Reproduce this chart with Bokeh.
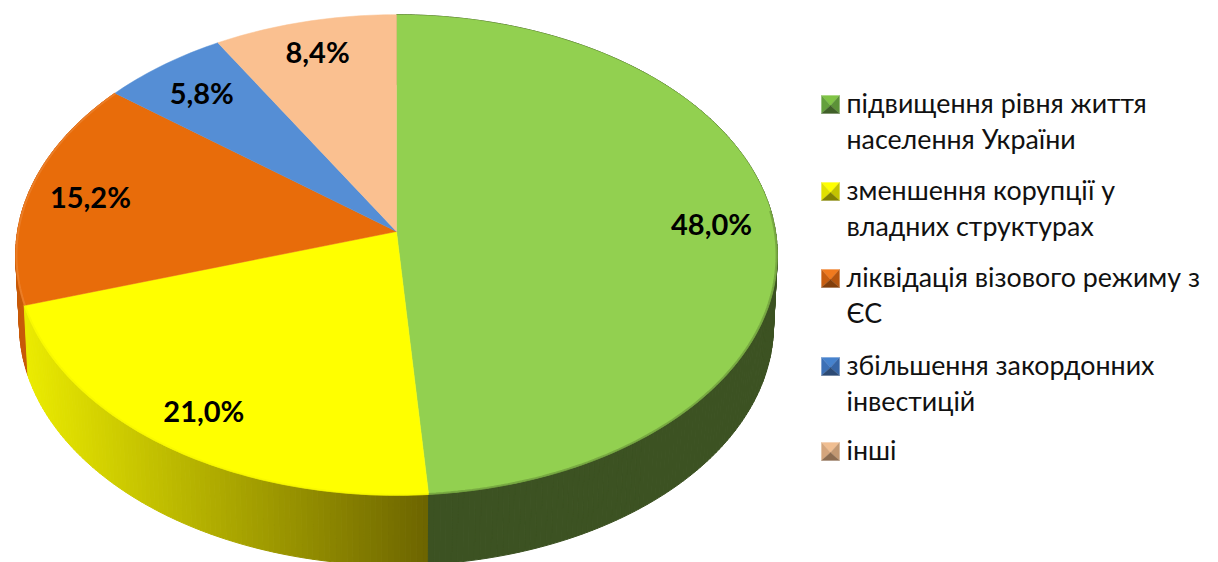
import math
from bokeh.plotting import figure
from bokeh.models import Range1d, ColumnDataSource
from bokeh.core.properties import value
from bokeh.embed import file_html
from bokeh.resources import INLINE

categories = ["підвищення рівня життя населення України", "зменшення корупції у владних структурах",
              "ліквідація візового режиму з ЄС", "збільшення закордонних інвестицій", "інші"]
values = [48.0, 21.0, 15.2, 5.8, 8.4]
value_labels = ["48,0%", "21,0%", "15,2%", "5,8%", "8,4%"]
legend_lines = [["підвищення рівня життя", "населення України"],
                ["зменшення корупції у", "владних структурах"],
                ["ліквідація візового режиму з", "ЄС"],
                ["збільшення закордонних", "інвестицій"],
                ["інші"]]
colors = [(146, 208, 80), (255, 255, 0), (232, 108, 10), (85, 142, 213), (250, 192, 144)]
side_from = [(60, 82, 34), (235, 235, 0), (200, 90, 8), (60, 100, 150), (180, 140, 100)]
side_to = [(60, 82, 34), (108, 100, 0), (200, 90, 8), (60, 100, 150), (180, 140, 100)]
marker_top = [(128, 196, 70), (255, 255, 0), (240, 122, 30), (70, 130, 205), (240, 190, 145)]
marker_left = [(100, 160, 60), (225, 225, 0), (200, 94, 16), (60, 112, 182), (212, 165, 124)]
marker_right = [(92, 146, 56), (195, 195, 0), (180, 84, 14), (54, 100, 164), (194, 152, 114)]
marker_bottom = [(64, 96, 40), (130, 130, 0), (130, 62, 10), (44, 74, 116), (140, 108, 80)]

CX, CY, A, B, K = 396.0, 231.0, 379.0, 238.0, 0.0977
DEPTH, SHRINK = 70.0, 0.99
LABEL_R = [0.835, 0.835, 0.835, 0.835, 0.86]
FONT = "Lato"


def project(deg, r=1.0):
    t = math.radians(deg)
    u, v = math.sin(t), math.cos(t)
    w = 1 + K * v
    return CX + r * A * u / w, CY - r * B * v / w


def lower(pt):
    return CX + (pt[0] - CX) * SHRINK, pt[1] + DEPTH


def mix(c1, c2, t):
    return tuple(int(round(a + (b - a) * t)) for a, b in zip(c1, c2))


def hexc(c):
    return "#%02x%02x%02x" % tuple(c)


p = figure(width=1218, height=562, x_range=Range1d(0, 1218), y_range=Range1d(562, 0),
           output_backend="svg", toolbar_location=None, min_border=0,
           outline_line_color=None, background_fill_color="white")
p.xaxis.visible = False
p.yaxis.visible = False
p.grid.visible = False

total = sum(values)
angles = [0.0]
for val in values:
    angles.append(angles[-1] + 360.0 * val / total)

# side walls, one thin strip per step, coloured along x
sx, sy, sc = [], [], []
draw_order = [2, 1, 0]
for i in draw_order:
    a0, a1 = angles[i], angles[i + 1]
    n = max(2, int((a1 - a0) / 0.8))
    xs_ring = [project(a0 + (a1 - a0) * k / n)[0] for k in range(n + 1)]
    xmin, xmax = min(xs_ring), max(xs_ring)
    for k in range(n):
        d0 = a0 + (a1 - a0) * k / n
        d1 = a0 + (a1 - a0) * (k + 1) / n
        t0, t1 = project(d0), project(d1)
        l0, l1 = lower(t0), lower(t1)
        sx.append([t0[0], t1[0], l1[0], l0[0]])
        sy.append([t0[1], t1[1], l1[1], l0[1]])
        frac = (0.5 * (t0[0] + t1[0]) - xmin) / max(1.0, xmax - xmin)
        sc.append(hexc(mix(side_from[i], side_to[i], frac)))
p.patches("x", "y", source=ColumnDataSource(dict(x=sx, y=sy, c=sc)), fill_color="c", line_color="c", line_width=1)

# top face
for i in range(len(values)):
    a0, a1 = angles[i], angles[i + 1]
    n = max(8, int(a1 - a0))
    pts = [project(a0 + (a1 - a0) * k / n) for k in range(n + 1)]
    xs = [CX] + [q[0] for q in pts]
    ys = [CY] + [q[1] for q in pts]
    p.patch(xs, ys, fill_color=hexc(colors[i]), line_color=hexc(colors[i]), line_width=0.5)

# soft bevel along the rim (front part only)
for i in range(3):
    a0, a1 = angles[i], angles[i + 1]
    if i == 0:
        a0 = 85.0
    n = max(8, int(a1 - a0))
    pts_in = [project(a0 + (a1 - a0) * k / n, 0.998) for k in range(n + 1)]
    rim = mix(colors[i], side_from[i], 0.5) if i == 0 else (mix(colors[i], (255, 255, 255), 0.2) if i == 2 else (245, 245, 0))
    p.line([q[0] for q in pts_in], [q[1] for q in pts_in], line_color=hexc(rim), line_width=2, line_alpha=0.6)

# value labels
lx, ly = [], []
for i in range(len(values)):
    q = project((angles[i] + angles[i + 1]) / 2)
    lx.append(CX + (q[0] - CX) * LABEL_R[i])
    ly.append(CY + (q[1] - CY) * LABEL_R[i])
p.text(lx, ly, text=value_labels, text_font=value(FONT), text_font_style="bold", text_font_size="29px",
       text_align="center", text_baseline="middle", text_color="black")

# legend
ROW_Y = [104, 191, 278, 366, 451]
MX0, MX1, TX, LINE, TEXT_DY = 821, 839, 846, 36, -2
for i, lines in enumerate(legend_lines):
    y = ROW_Y[i]
    y0, y1, mx, my = y - 9, y + 9, (MX0 + MX1) / 2, y + 1
    for tri, col in ((([MX0, MX1, mx], [y0, y0, my])), marker_top[i]), \
                    ((([MX0, MX0, mx], [y0, y1, my])), marker_left[i]), \
                    ((([MX1, MX1, mx], [y0, y1, my])), marker_right[i]), \
                    ((([MX0, MX1, mx], [y1, y1, my])), marker_bottom[i]):
        p.patch(tri[0], tri[1], fill_color=hexc(col), line_color=hexc(col), line_width=0.3)
    p.text([TX] * len(lines), [y + TEXT_DY + LINE * k for k in range(len(lines))], text=lines,
           text_font=value(FONT), text_font_size="26.8px", text_align="left", text_baseline="middle",
           text_color="#111111")

open("out.html", "w").write(file_html(p, INLINE))
